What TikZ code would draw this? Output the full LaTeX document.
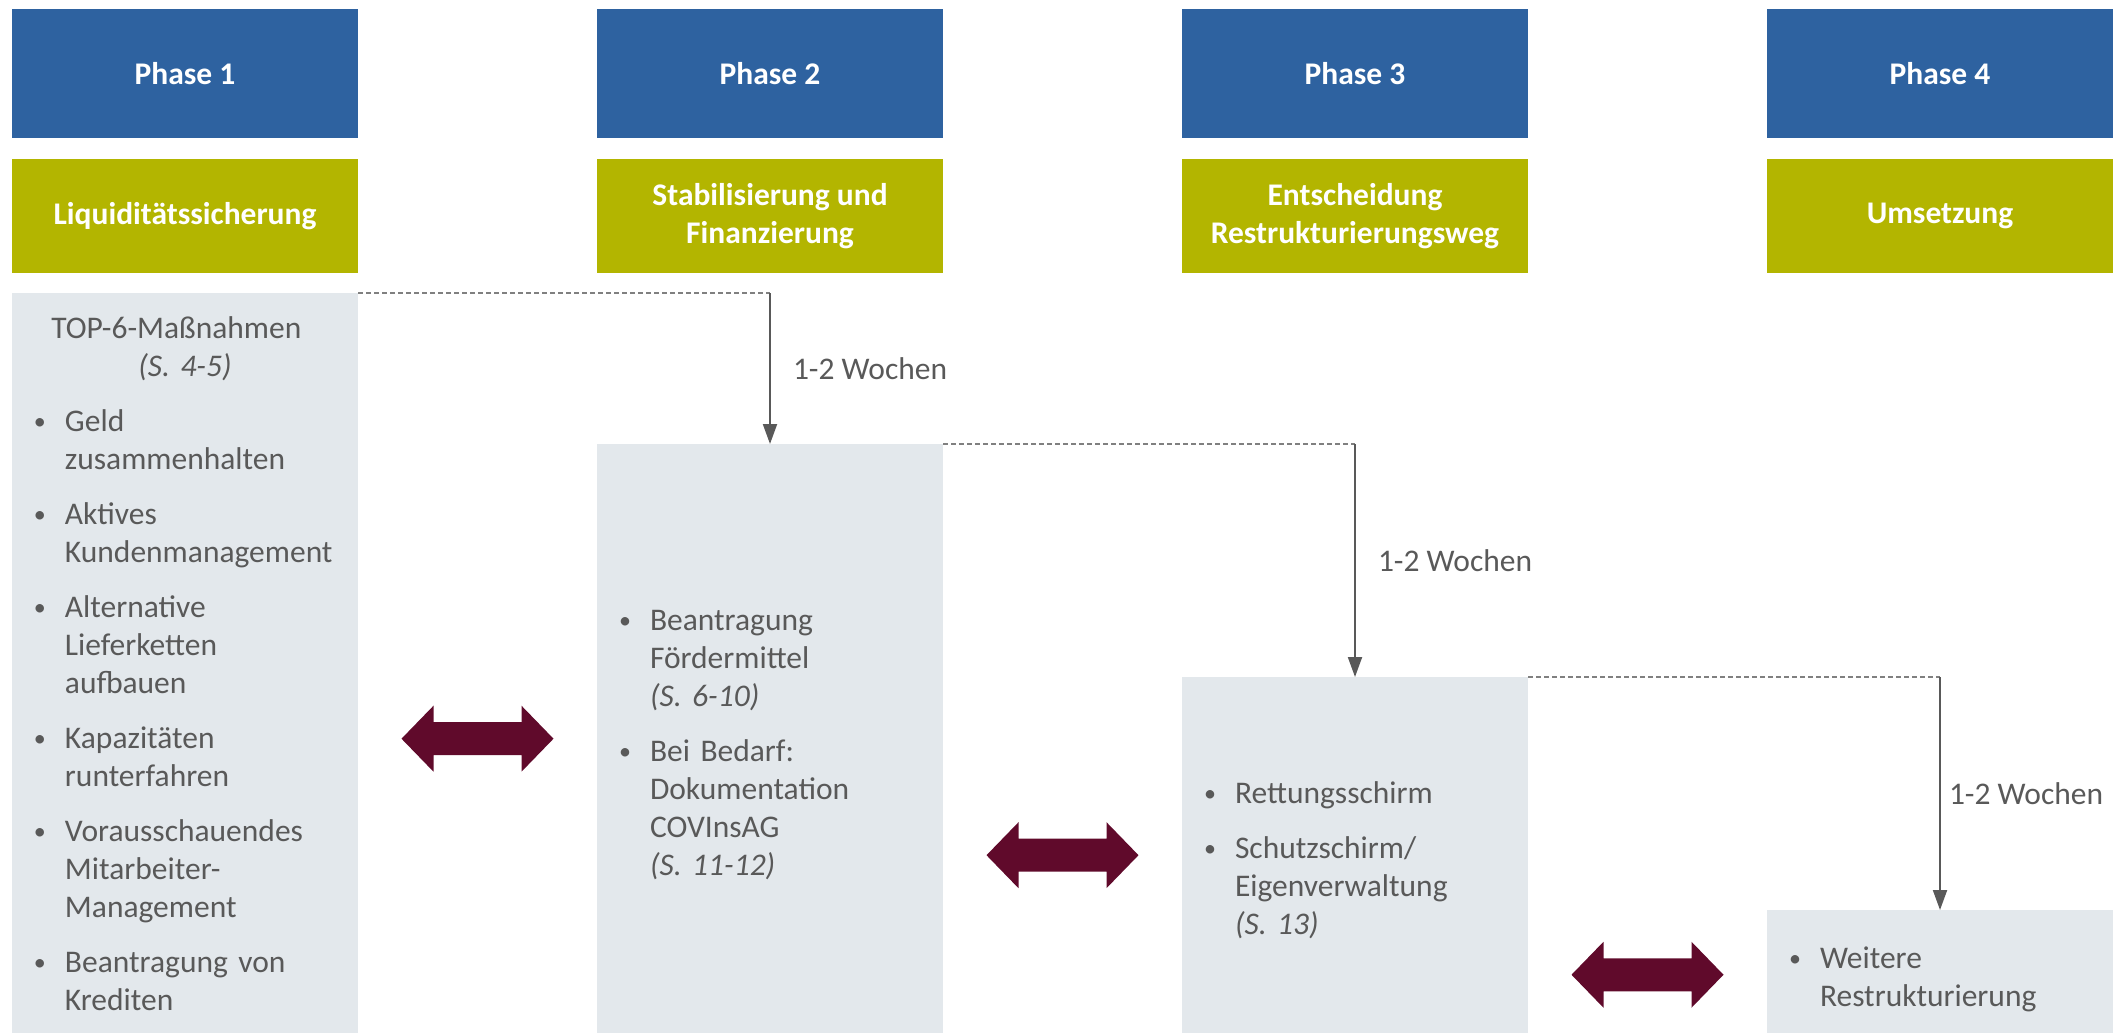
\documentclass[tikz,border=0pt]{standalone}
\usepackage{fontspec}
\setmainfont{Carlito}
\usepackage{tikz}
\usetikzlibrary{arrows.meta,positioning,calc}
\definecolor{phaseblau}{RGB}{46,98,160}
\definecolor{phasegruen}{RGB}{179,181,0}
\definecolor{kastengrau}{RGB}{227,232,236}
\definecolor{textgrau}{RGB}{89,89,89}
\definecolor{strichgrau}{RGB}{128,128,128}
\definecolor{pfeilrot}{RGB}{96,10,43}
\frenchspacing

% Aufzaehlungspunkt mit haengendem Einzug
\newcommand{\punkt}[1]{\par\noindent\hangindent=31pt\hangafter=1\makebox[31pt][l]{\raisebox{2pt}{\fontsize{24}{24}\selectfont\textbullet}}#1\par}
% breiter Doppelpfeil zwischen zwei Kaesten
\newcommand{\doppelpfeil}[1]{\fill[pfeilrot, shift={(#1)}] (-76,0) -- (-44,-33) -- (-44,-16.5) -- (44,-16.5) -- (44,-33) -- (76,0) -- (44,33) -- (44,16.5) -- (-44,16.5) -- (-44,33) -- cycle;}

\begin{document}
\begin{tikzpicture}[x=1pt, y=-1pt,
    schrift/.style={font=\fontsize{31.5}{38}\selectfont},
    phase/.style={fill=phaseblau, text=white, minimum width=346pt,
                  minimum height=129pt, font=\fontsize{31.5}{38}\selectfont\bfseries},
    ziel/.style={fill=phasegruen, text=white, minimum width=346pt, align=center,
                 minimum height=114pt, font=\fontsize{31.5}{38}\selectfont\bfseries},
    kasten/.style={fill=kastengrau, text=textgrau, anchor=north, minimum width=346pt,
                   text width=302pt, inner xsep=22pt, align=left,
                   font=\fontsize{31.5}{38}\selectfont\setlength{\parskip}{17pt}},
    strich/.style={strichgrau, line width=1.5pt, dash pattern=on 5pt off 3pt},
    arr/.style={textgrau, line width=2pt, -{Triangle[length=20pt,width=14pt]}},
    wochen/.style={schrift, text=textgrau, anchor=west, inner sep=0pt}
]
    \useasboundingbox (0,0) rectangle (2123,1033);

    \node[phase] (p1) at (185,73.5)  {Phase 1};
    \node[phase] (p2) at (770,73.5)  {Phase 2};
    \node[phase] (p3) at (1355,73.5) {Phase 3};
    \node[phase] (p4) at (1940,73.5) {Phase 4};

    \node[ziel] (z1) at (185,216)  {Liquiditätssicherung};
    \node[ziel] (z2) at (770,216)  {Stabilisierung und\\Finanzierung};
    \node[ziel] (z3) at (1355,216) {Entscheidung\\Restrukturierungsweg};
    \node[ziel] (z4) at (1940,216) {Umsetzung};

    \node[kasten, minimum height=740pt] (k1) at (185,293) {%
        {\centering TOP-6-Maßnahmen\newline\textit{(S. 4-5)}\par}%
        \punkt{Geld\newline zusammenhalten}%
        \punkt{Aktives\newline Kundenmanagement}%
        \punkt{Alternative\newline Lieferketten\newline aufbauen}%
        \punkt{Kapazitäten\newline runterfahren}%
        \punkt{Vorausschauendes\newline Mitarbeiter-\newline Management}%
        \punkt{Beantragung von\newline Krediten}};
    \node[kasten, minimum height=589pt] (k2) at (770,444) {%
        \punkt{Beantragung\newline Fördermittel\newline\textit{(S. 6-10)}}%
        \punkt{Bei Bedarf:\newline Dokumentation\newline COVInsAG\newline\textit{(S. 11-12)}}%
        \vspace{22pt}};
    \node[kasten, minimum height=356pt] (k3) at (1355,677) {%
        \punkt{Rettungsschirm}%
        \punkt{Schutzschirm/\newline Eigenverwaltung\newline\textit{(S. 13)}}%
        \vspace{24pt}};
    \node[kasten, minimum height=123pt] (k4) at (1940,910) {%
        \punkt{Weitere\newline Restrukturierung}%
        \vspace{24pt}};

    % Zeitschritte
    \coordinate (e2) at (k1.north east -| k2.north);
    \coordinate (e3) at (k2.north east -| k3.north);
    \coordinate (e4) at (k3.north east -| k4.north);
    \draw[strich] (k1.north east) -- (e2);
    \draw[strich] (k2.north east) -- (e3);
    \draw[strich] (k3.north east) -- (e4);
    \draw[arr] (e2) -- node[wochen, midway, xshift=22pt] {1-2 Wochen} (k2.north);
    \draw[arr] (e3) -- node[wochen, midway, xshift=22pt] {1-2 Wochen} (k3.north);
    \draw[arr] (e4) -- node[wochen, midway, xshift=8pt] {1-2 Wochen} (k4.north);

    % Wechselwirkung
    \coordinate (d1) at ($(k1.east |- k2.center)!0.5!(k2.west)$);
    \coordinate (d2) at ($(k2.east |- k3.center)!0.5!(k3.west)$);
    \coordinate (d3) at ($(k3.east |- k4.center)!0.5!(k4.west)$);
    \doppelpfeil{d1}
    \doppelpfeil{d2}
    \doppelpfeil{d3}
\end{tikzpicture}
\end{document}
